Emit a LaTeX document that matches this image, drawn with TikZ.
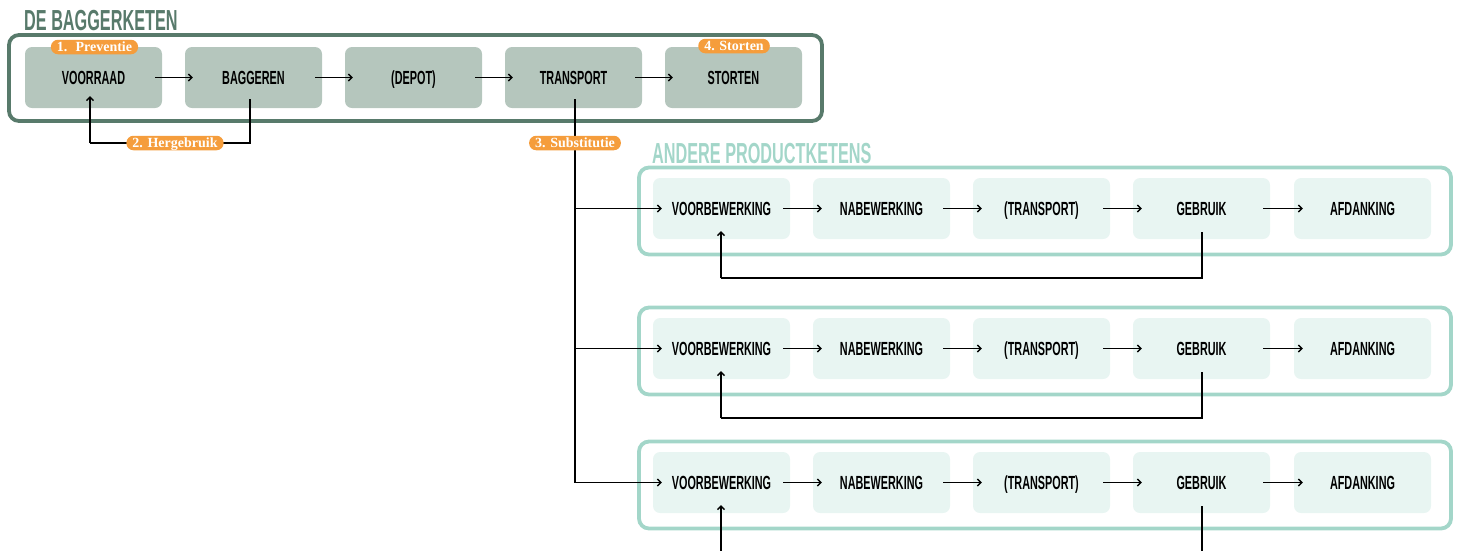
\documentclass[tikz,border=0pt]{standalone}
\usepackage{fontspec}
\usetikzlibrary{arrows.meta,calc}
\newfontfamily\condfont[FakeStretch=0.57]{Liberation Sans}
\newfontfamily\titlefont[FakeStretch=0.56]{Liberation Sans}
\newfontfamily\badgefont{Liberation Serif}
\definecolor{darkgreen}{HTML}{587A6B}
\definecolor{topfill}{HTML}{B5C6BD}
\definecolor{teal}{HTML}{A3D6C9}
\definecolor{lowfill}{HTML}{E8F5F2}
\definecolor{badgeorange}{HTML}{F59D3C}
\tikzset{
  stepbase/.style={rectangle, rounded corners=7pt, minimum width=137pt, minimum height=61pt, font=\condfont\bfseries\fontsize{19}{19}\selectfont, text=black, inner sep=0pt, text height=13.6pt, text depth=0pt},
  topstep/.style={stepbase, fill=topfill},
  lowstep/.style={stepbase, fill=lowfill},
  badge/.style={rectangle, rounded corners=7pt, fill=badgeorange, text=white, font=\badgefont\bfseries\fontsize{14}{14}\selectfont, minimum height=14.5pt, inner ysep=0pt, inner xsep=6pt, text height=9.3pt, text depth=0.5pt},
  conn/.style={draw=black, line width=1.4pt},
  arr/.style={conn, -{Straight Barb[length=3.5pt,width=7pt,line width=1.4pt]}},
  topframe/.style={draw=darkgreen, line width=3.8pt, rounded corners=10pt},
  lowframe/.style={draw=teal, line width=3.8pt, rounded corners=10pt},
  titletext/.style={anchor=base west, inner sep=0pt, font=\titlefont\bfseries\fontsize{29}{29}\selectfont}
}
\begin{document}
\begin{tikzpicture}[x=1pt,y=-1pt]
\useasboundingbox (0,0) rectangle (1458,550);
% titles
\node[titletext, text=darkgreen] (t1) at (24,30) {DE BAGGERKETEN};
\node[titletext, text=teal] (t2) at (652,163) {ANDERE PRODUCTKETENS};
% top frame
\draw[topframe] (9,35) rectangle (822,121);
% top nodes
\node[topstep] (voor) at (93.5,77.5) {VOORRAAD};
\node[topstep] (bag) at (253.5,77.5) {BAGGEREN};
\node[topstep] (dep) at (413.5,77.5) {(DEPOT)};
\node[topstep] (tra) at (573.5,77.5) {TRANSPORT};
\node[topstep] (sto) at (733.5,77.5) {STORTEN};
\foreach \a/\b in {voor/bag,bag/dep,dep/tra,tra/sto}
  \draw[arr] ([xshift=-7pt]\a.east) -- ([xshift=8pt]\b.west);
% lower frames and nodes
\foreach \r/\y in {1/208.5,2/348.5,3/482.5}{
  \draw[lowframe] (639,\y-41) rectangle (1451,\y+46);
  \node[lowstep] (vb\r) at (721.5,\y) {VOORBEWERKING};
  \node[lowstep] (nb\r) at (881.5,\y) {NABEWERKING};
  \node[lowstep] (tr\r) at (1041.5,\y) {(TRANSPORT)};
  \node[lowstep] (ge\r) at (1201.5,\y) {GEBRUIK};
  \node[lowstep] (af\r) at (1362.5,\y) {AFDANKING};
  \draw[arr] ([xshift=-7pt]vb\r.east) -- ([xshift=9pt]nb\r.west);
  \draw[arr] ([xshift=-7pt]nb\r.east) -- ([xshift=9pt]tr\r.west);
  \draw[arr] ([xshift=-7pt]tr\r.east) -- ([xshift=9pt]ge\r.west);
  \draw[arr] ([xshift=-7pt]ge\r.east) -- ([xshift=9pt]af\r.west);
}
% feedback loops lower
\coordinate (l1) at (721,278);
\coordinate (l2) at (721,418);
\coordinate (l3) at (721,565);
\foreach \r in {1,2,3}{
  \draw[conn] ([xshift=0.5pt,yshift=7pt]ge\r.south) |- (l\r);
  \draw[arr] (l\r) -- ([xshift=-0.5pt,yshift=8pt]vb\r.south);
}
% hergebruik loop
\coordinate (hl) at (90,143);
\draw[conn] ([xshift=-3.5pt,yshift=9pt]bag.south) |- (hl);
\draw[arr] (hl) -- ([xshift=-3.5pt,yshift=12pt]voor.south);
% substitution line
\coordinate (s0) at ([xshift=1.5pt,yshift=9pt]tra.south);
\coordinate (b1) at (s0 |- vb1.west);
\coordinate (b2) at (s0 |- vb2.west);
\coordinate (b3) at (s0 |- vb3.west);
\draw[conn] (s0) -- (b3);
\foreach \r in {1,2,3}
  \draw[arr] (b\r) -- ([xshift=9pt]vb\r.west);
% badges
\node[badge] (p1) at (94.5,47) {1.~ Preventie};
\node[badge] (p4) at (734,46) {4. Storten};
\node[badge] (p2) at (175,143) {2. Hergebruik};
\node[badge] (p3) at (575,143) {3. Substitutie};
\end{tikzpicture}
\end{document}
